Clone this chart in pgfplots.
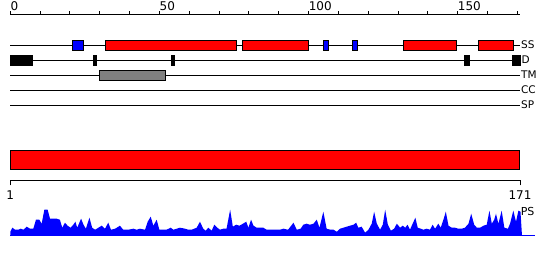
\documentclass[border=0pt]{standalone}
\usepackage{pgfplots}
\pgfplotsset{compat=1.18}
\usepackage{fontspec}
\setmainfont{DejaVu Sans}
\definecolor{tmgray}{RGB}{128,128,128}
\begin{document}
\begin{tikzpicture}[x=1pt,y=1pt]
\fill[white] (0,0) rectangle (550,260);
\useasboundingbox (0,0) rectangle (550,260);

% top residue scale
\begin{axis}[at={(10.3pt,245pt)}, anchor=north west, scale only axis,
  width=510.1pt, height=10pt, xmin=0, xmax=171, ymin=0, ymax=1,
  axis x line*=top, axis y line=none,
  xtick={0,50,100,150}, minor xtick={10,20,30,40,60,70,80,90,110,120,130,140,160,170},
  tick align=outside, major tick length=3.5pt, minor tick length=3.5pt,
  every tick/.style={black, line width=1pt},
  x tick label style={anchor=south west, inner sep=0pt, yshift=0.5pt, font=\fontsize{12}{14}\selectfont},
  /pgf/number format/assume math mode=true,
  axis line style={line width=1pt}]
\addplot[draw=none] coordinates {(0,0)};
\end{axis}

% tracks
\begin{axis}[at={(10.3pt,0pt)}, anchor=south west, scale only axis,
  width=510.1pt, height=260pt, xmin=0, xmax=171, ymin=0, ymax=260,
  y dir=reverse, axis lines=none, clip=false]
% track lines
\addplot[black, line width=1pt] coordinates {(0,45) (171,45)};
\addplot[black, line width=1pt] coordinates {(0,60) (171,60)};
\addplot[black, line width=1pt] coordinates {(0,75) (171,75)};
\addplot[black, line width=1pt] coordinates {(0,90) (171,90)};
\addplot[black, line width=1pt] coordinates {(0,105) (171,105)};
% SS: strands (blue) and helices (red)
\addplot[fill=blue, draw=black, line width=1pt] coordinates {(21.0,40.5) (24.7,40.5) (24.7,50.2) (21.0,50.2)} --cycle;
\addplot[fill=red, draw=black, line width=1pt] coordinates {(32.0,40.5) (75.7,40.5) (75.7,50.2) (32.0,50.2)} --cycle;
\addplot[fill=red, draw=black, line width=1pt] coordinates {(78.0,40.5) (99.8,40.5) (99.8,50.2) (78.0,50.2)} --cycle;
\addplot[fill=blue, draw=black, line width=1pt] coordinates {(105.1,40.5) (106.7,40.5) (106.7,50.2) (105.1,50.2)} --cycle;
\addplot[fill=blue, draw=black, line width=1pt] coordinates {(114.8,40.5) (116.5,40.5) (116.5,50.2) (114.8,50.2)} --cycle;
\addplot[fill=red, draw=black, line width=1pt] coordinates {(131.9,40.5) (149.6,40.5) (149.6,50.2) (131.9,50.2)} --cycle;
\addplot[fill=red, draw=black, line width=1pt] coordinates {(157.1,40.5) (168.8,40.5) (168.8,50.2) (157.1,50.2)} --cycle;
% D: disorder
\addplot[fill=black, draw=black, line width=1pt] coordinates {(0.2,55.5) (7.6,55.5) (7.6,65.2) (0.2,65.2)} --cycle;
\addplot[fill=black, draw=black, line width=1pt] coordinates {(27.9,55.5) (28.8,55.5) (28.8,65.2) (27.9,65.2)} --cycle;
\addplot[fill=black, draw=black, line width=1pt] coordinates {(54.1,55.5) (55.0,55.5) (55.0,65.2) (54.1,65.2)} --cycle;
\addplot[fill=black, draw=black, line width=1pt] coordinates {(152.2,55.5) (153.8,55.5) (153.8,65.2) (152.2,65.2)} --cycle;
\addplot[fill=black, draw=black, line width=1pt] coordinates {(168.3,55.5) (171.1,55.5) (171.1,65.2) (168.3,65.2)} --cycle;
% TM
\addplot[fill=tmgray, draw=black, line width=1pt] coordinates {(30.0,70.5) (51.9,70.5) (51.9,80.2) (30.0,80.2)} --cycle;
% full-length red bar
\addplot[fill=red, draw=black, line width=1pt] coordinates {(0,150.8) (170.7,150.8) (170.7,169.8) (0,169.8)} --cycle;
% labels
\node[anchor=west, inner sep=0.5pt, font=\fontsize{10.5}{12}\selectfont] at (axis cs:171,45) {SS};
\node[anchor=west, inner sep=0.5pt, font=\fontsize{10.5}{12}\selectfont] at (axis cs:171.2,60) {D};
\node[anchor=west, inner sep=0.5pt, font=\fontsize{10.5}{12}\selectfont] at (axis cs:171,75) {TM};
\node[anchor=west, inner sep=0.5pt, font=\fontsize{10.5}{12}\selectfont] at (axis cs:171,90) {CC};
\node[anchor=west, inner sep=0.5pt, font=\fontsize{10.5}{12}\selectfont] at (axis cs:171,105) {SP};
\node[anchor=west, inner sep=0.5pt, font=\fontsize{11}{12}\selectfont] at (axis cs:170.9,211) {PS};
\end{axis}

% bottom sequence scale
\begin{axis}[at={(10.3pt,79.7pt)}, anchor=south west, scale only axis,
  width=509.7pt, height=10pt, xmin=1, xmax=171, ymin=0, ymax=1,
  axis x line*=bottom, axis y line=none,
  xtick={1,171}, tick align=outside, major tick length=5pt,
  every tick/.style={black, line width=1pt},
  x tick label style={font=\fontsize{12}{14}\selectfont, inner sep=1pt, yshift=-4.5pt},
  /pgf/number format/assume math mode=true,
  axis line style={line width=1pt}]
\addplot[draw=none] coordinates {(1,0)};
\end{axis}

% PS profile
\begin{axis}[at={(10.3pt,24.3pt)}, anchor=south west, scale only axis,
  width=507.8pt, height=27pt, xmin=1, xmax=171, ymin=0, ymax=27,
  axis lines=none, clip=false]
\addplot[blue, line width=1pt] coordinates {(1,0) (176.7,0)};
\addplot[fill=blue, draw=none] coordinates {
(1.0,4) (1.7,8) (2.6,6) (3.7,6) (4.5,7) (5.4,6) (6.5,9) (7.6,7) (8.7,7) (9.6,16)
(10.7,16) (11.5,12) (12.4,26) (13.5,26) (14.3,17) (15.4,17) (16.5,17) (17.6,16) (18.4,8) (19.3,13)
(20.2,10) (21.2,8) (22.1,11) (22.8,14) (23.4,8) (24.7,17) (25.5,11) (26.3,7) (27.5,18) (28.4,8)
(29.4,6) (30.5,8) (31.6,10) (32.7,7) (33.8,13) (34.7,6) (36.1,7) (37.7,10) (38.8,6) (40.5,6)
(42.2,7) (43.3,6) (44.4,7) (46.1,6) (47.0,14) (48.0,19) (48.9,10) (50.0,16) (50.9,6) (52.2,6)
(53.3,6) (54.7,8) (55.6,6) (56.7,7) (57.8,8) (59.5,7) (60.6,6) (61.7,6) (63.4,8) (64.5,14)
(65.6,7) (66.4,5) (67.3,8) (68.4,5) (69.3,11) (70.3,8) (71.2,6) (72.3,7) (73.4,7) (74.6,26)
(75.5,9) (76.6,11) (77.7,10) (78.9,12) (80.0,14) (80.7,8) (81.6,16) (82.4,10) (83.5,8) (84.6,8)
(85.7,8) (86.8,6) (88.0,6) (89.6,6) (91.3,6) (92.4,7) (94.0,6) (95.8,13) (96.9,6) (98.2,7)
(99.1,11) (100.2,12) (101.3,11) (102.5,12) (103.6,16) (104.5,8) (105.8,24) (106.9,7) (108.1,6) (109.2,6)
(110.3,4) (111.4,7) (112.5,8) (113.6,9) (114.7,10) (115.9,11) (116.8,13) (117.5,8) (118.6,9) (119.8,3)
(120.9,6) (122.0,12) (122.8,24) (123.7,12) (124.8,6) (125.7,11) (126.5,26) (127.4,11) (128.4,5) (129.5,7)
(130.4,12) (131.5,8) (132.4,10) (133.2,8) (134.0,11) (134.8,6) (135.7,12) (136.6,18) (137.4,8) (138.4,7)
(139.3,6) (140.4,7) (141.5,6) (142.4,11) (143.2,7) (144.3,12) (145.1,8) (146.0,16) (146.8,24) (147.7,10)
(148.8,8) (149.9,8) (151.0,7) (152.1,7) (153.2,8) (154.4,12) (155.3,22) (156.3,11) (157.2,8) (158.3,8)
(159.4,10) (160.5,11) (161.4,25) (162.2,12) (163.0,16) (163.6,22) (164.4,12) (165.5,25) (166.4,8) (167.6,7)
(168.3,12) (169.4,25) (170.3,14) (171.1,25) (171.8,24) (172.3,0)
} \closedcycle;
\end{axis}
\end{tikzpicture}
\end{document}
